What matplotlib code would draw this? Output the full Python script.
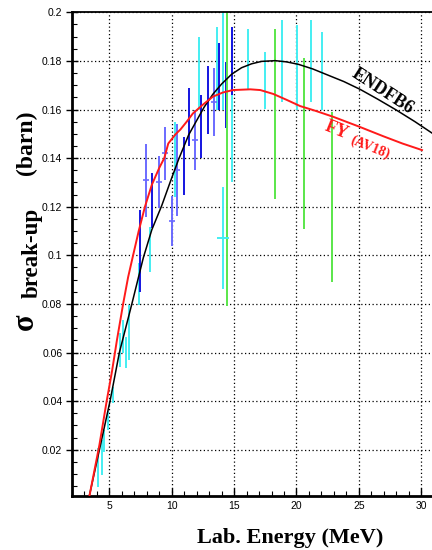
import numpy as np
import matplotlib
matplotlib.use("Agg")
import matplotlib.pyplot as plt
from matplotlib.ticker import MultipleLocator, FixedLocator

# ENDF/B-VI curve
endf_x = [3.39, 4.2, 5.05, 5.8, 6.8, 7.72, 8.4, 9.2, 9.9, 10.55, 11.35, 12.0, 12.6, 13.3, 14.0,
          14.8, 15.6, 16.4, 17.2, 18.3, 19.2, 20.15, 21.3, 22.5, 23.8, 25.1, 26.5, 28.0, 29.5, 30.9]
endf_y = [0.001, 0.02, 0.04, 0.06, 0.08, 0.099, 0.1105, 0.1205, 0.1305, 0.1395, 0.1495, 0.1555,
          0.161, 0.1663, 0.1705, 0.1745, 0.1772, 0.1788, 0.1798, 0.1801, 0.1796, 0.1786, 0.1767,
          0.1742, 0.1715, 0.1683, 0.1643, 0.1598, 0.155, 0.1502]

# Faddeev-Yakubovsky (AV18) curve
fy_x = [3.4, 4.2, 4.78, 5.2, 5.6, 6.1, 6.5, 6.9, 7.35, 7.85, 8.4, 9.0, 9.4, 9.72, 10.3, 10.7,
        11.2, 11.7, 12.5, 13.3, 14.1, 14.9, 16.3, 17.1, 18.14, 19.2, 20.3, 21.5, 22.95, 25.0,
        26.96, 28.5, 30.07]
fy_y = [0.001, 0.022, 0.04, 0.052, 0.065, 0.08, 0.091, 0.1, 0.11, 0.12, 0.129, 0.136, 0.14,
        0.146, 0.1498, 0.1518, 0.155, 0.1584, 0.162, 0.1653, 0.167, 0.168, 0.1683, 0.168, 0.1664,
        0.164, 0.1614, 0.1595, 0.157, 0.153, 0.149, 0.146, 0.1433]

# data set 1 (dark blue)
blue_x = [7.45, 8.44, 11.0, 11.41, 12.37, 12.88, 13.81, 14.33, 14.81]
blue_y = [0.1017, 0.1225, 0.1368, 0.1568, 0.153, 0.164, 0.1736, 0.166, 0.180]
blue_e = [0.017, 0.0113, 0.012, 0.012, 0.013, 0.014, 0.0138, 0.0137, 0.014]

# data set 2 (light blue)
lblue_x = [7.91, 8.98, 9.46, 10.0, 10.46, 11.89, 13.36]
lblue_y = [0.1309, 0.130, 0.142, 0.114, 0.135, 0.1475, 0.163]
lblue_e = [0.015, 0.0107, 0.011, 0.0103, 0.019, 0.0124, 0.014]

# data set 3 (cyan)
cyan_x = [4.11, 4.38, 4.59, 4.91, 5.31, 5.85, 6.11, 6.31, 6.57, 7.37, 8.25, 10.22, 12.16,
          13.65, 14.08, 14.85, 16.09, 17.45, 18.86, 20.07, 21.14, 22.07]
cyan_y = [0.0127, 0.0168, 0.0235, 0.032, 0.0426, 0.061, 0.0666, 0.060, 0.0683, 0.0882, 0.1025,
          0.1395, 0.175, 0.177, 0.18, 0.162, 0.1805, 0.172, 0.18, 0.1773, 0.18, 0.1758]
cyan_e = [0.008, 0.0072, 0.0045, 0.004, 0.0033, 0.007, 0.0068, 0.0064, 0.0113, 0.0086, 0.0093,
          0.0155, 0.015, 0.017, 0.02, 0.032, 0.0125, 0.0117, 0.0168, 0.0175, 0.0168, 0.016]

# single cyan point with wide marker
cyan2_x = [14.13]
cyan2_y = [0.107]
cyan2_e = [0.021]

# data set 4 (green)
green_x = [14.41, 18.28, 20.63, 22.87]
green_y = [0.14, 0.158, 0.146, 0.124]
green_e = [0.061, 0.035, 0.035, 0.035]

xticks = [5, 10, 15, 20, 25, 30]
yticks = [0.02, 0.04, 0.06, 0.08, 0.1, 0.12, 0.14, 0.16, 0.18, 0.2]
ytick_labels = ['0.02', '0.04', '0.06', '0.08', '0.1', '0.12', '0.14', '0.16', '0.18', '0.2']

W, H = 432, 550
fig = plt.figure(figsize=(W/100, H/100), dpi=100)
ax = fig.add_axes([72/W, 1-495.7/H, 1-72/W, (495.7-12.3)/H])

ax.errorbar(cyan_x, cyan_y, yerr=cyan_e, fmt='none', ecolor='#44eef2', elinewidth=1.4, zorder=2)
ax.errorbar(cyan2_x, cyan2_y, yerr=cyan2_e, fmt='_', color='#44eef2', ecolor='#44eef2',
            elinewidth=1.4, markersize=8, markeredgewidth=1.4, zorder=2)
ax.errorbar(lblue_x, lblue_y, yerr=lblue_e, fmt='_', color='#6a6aff', ecolor='#6a6aff',
            elinewidth=1.4, markersize=4, markeredgewidth=1.2, zorder=2)
ax.errorbar(blue_x, blue_y, yerr=blue_e, fmt='none', ecolor='#1414e0', elinewidth=1.4, zorder=2)
ax.errorbar(green_x, green_y, yerr=green_e, fmt='none', ecolor='#5ae64a', elinewidth=1.4, zorder=2)

ax.plot(endf_x, endf_y, color='black', lw=1.1, zorder=4)
ax.plot(fy_x, fy_y, color='#ff1a1a', lw=1.4, zorder=4)

ax.set_xlim(2, 2 + 360/12.47)
ax.set_ylim(0.00107, 0.2)
ax.xaxis.set_major_locator(FixedLocator(xticks))
ax.xaxis.set_minor_locator(MultipleLocator(1))
ax.yaxis.set_major_locator(FixedLocator(yticks))
ax.set_yticklabels(ytick_labels)
ax.yaxis.set_minor_locator(MultipleLocator(0.005))
ax.grid(True, which='major', color='black', linestyle=(0, (1, 2)), linewidth=0.9)
ax.set_axisbelow(True)

for lab in ax.get_xticklabels() + ax.get_yticklabels():
    lab.set_fontfamily('Liberation Sans')
    lab.set_fontsize(7.5)
ax.tick_params(which='major', direction='in', length=6, width=1, pad=4)
ax.tick_params(which='minor', direction='in', length=3.5, width=0.8)
ax.tick_params(axis='y', which='major', direction='inout', length=8, pad=3)

ax.spines['right'].set_visible(False)
ax.spines['left'].set_linewidth(2)
ax.spines['bottom'].set_linewidth(2)
ax.spines['top'].set_linewidth(1.3)

serif = 'Liberation Serif'
fig.text(289.7/W, 1-543/H, 'Lab. Energy (MeV)', family=serif,
         weight='bold', fontsize=16, ha='center', va='baseline')
# y label built from three pieces (sigma, subscript, unit)
fig.text(25/W, 1-322/H, 'σ', family=serif, weight='bold', fontsize=22,
         rotation=90, ha='center', va='center')
fig.text(32/W, 1-253/H, 'break-up', family=serif, weight='bold', fontsize=16.5,
         rotation=90, ha='center', va='center')
fig.text(26/W, 1-143/H, '(barn)', family=serif, weight='bold', fontsize=17,
         rotation=90, ha='center', va='center')

ax.text(26.9, 0.1675, 'ENDFB6', family=serif, weight='bold', fontsize=13,
        rotation=-33, ha='center', va='center', color='black', zorder=5)
ax.text(23.2, 0.1515, 'FY', family=serif, weight='bold', fontsize=13,
        rotation=-22, ha='center', va='center', color='#ff1a1a', zorder=5)
ax.text(25.9, 0.1445, '(AV18)', family=serif, weight='bold', fontsize=10,
        rotation=-22, ha='center', va='center', color='#ff1a1a', zorder=5)

fig.savefig('out.png', dpi=100)
